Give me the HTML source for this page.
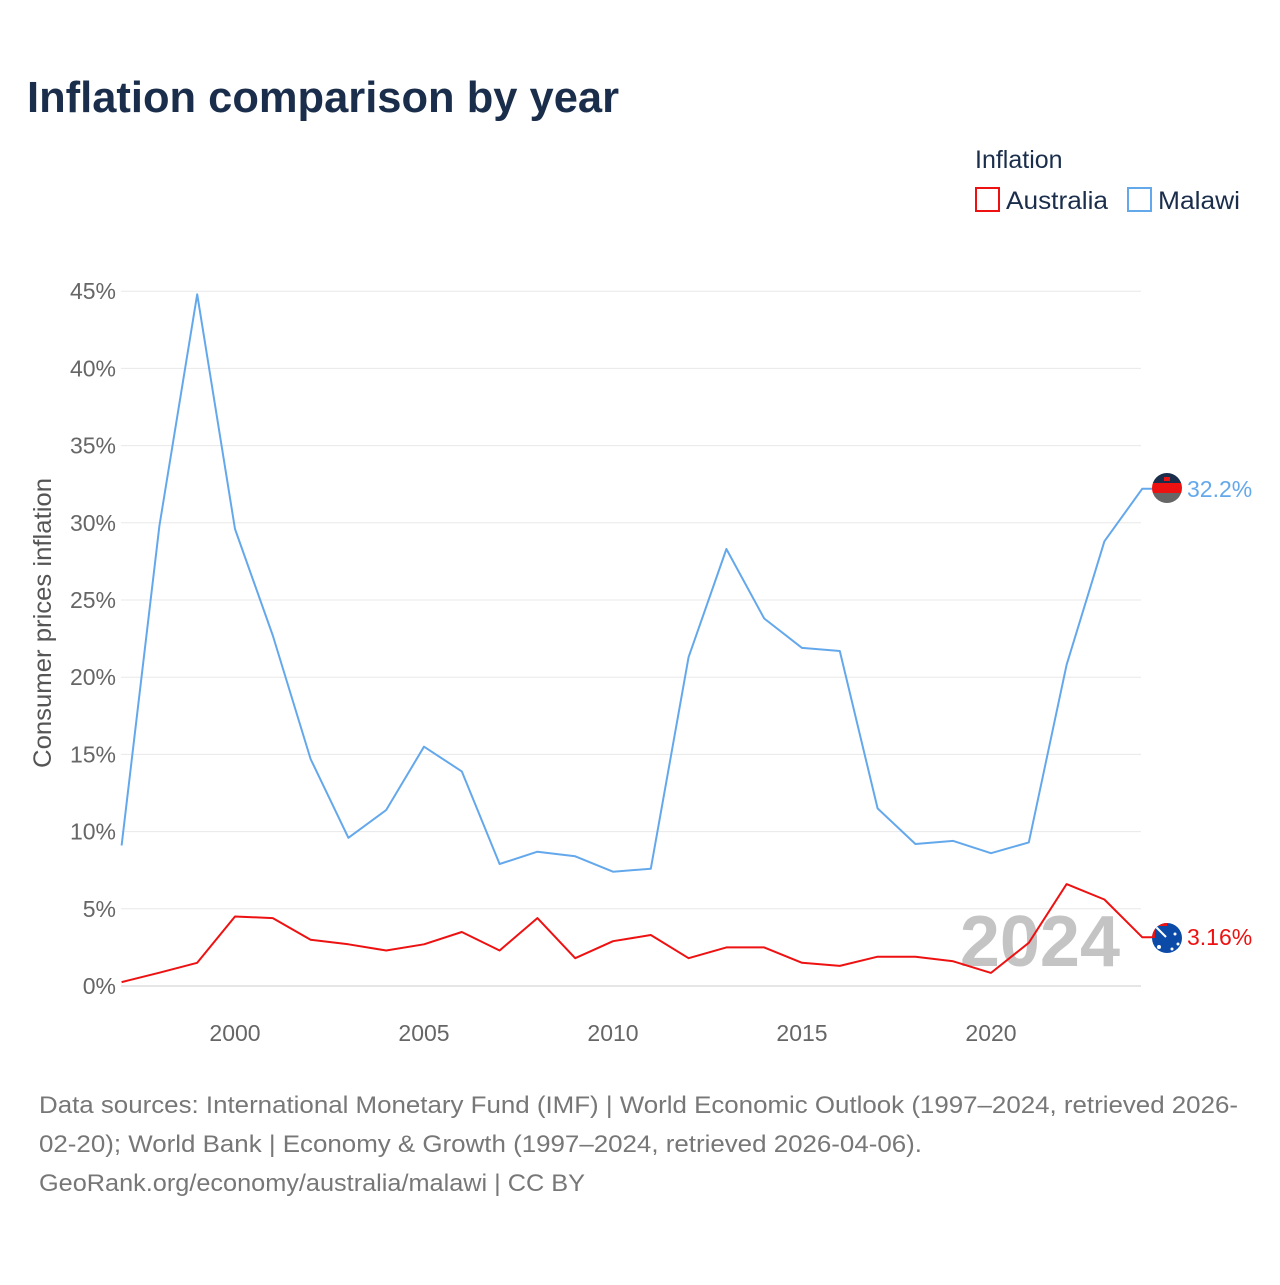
<!DOCTYPE html>
<html><head><meta charset="utf-8"><style>
body{margin:0;background:#fff;}
svg text{font-family:"Liberation Sans",sans-serif;}
</style></head><body>
<svg width="1280" height="1280" viewBox="0 0 1280 1280" xmlns="http://www.w3.org/2000/svg">
<text x="27" y="112" font-size="44" font-weight="bold" fill="#1a2e4c" textLength="592" lengthAdjust="spacingAndGlyphs">Inflation comparison by year</text>
<text x="975" y="168" font-size="25" fill="#1a2e4c">Inflation</text>
<g><rect x="976" y="188" width="23" height="23" fill="none" stroke="#ee1111" stroke-width="2"/><text x="1006" y="209" font-size="25" fill="#1a2e4c" textLength="102" lengthAdjust="spacingAndGlyphs">Australia</text></g>
<g><rect x="1128" y="188" width="23" height="23" fill="none" stroke="#64a8ec" stroke-width="2"/><text x="1158" y="209" font-size="25" fill="#1a2e4c" textLength="82" lengthAdjust="spacingAndGlyphs">Malawi</text></g>
<g id="grid"></g>
<g id="yticks"></g>
<g id="xticks"></g>
<text transform="translate(51,623) rotate(-90)" text-anchor="middle" font-size="25" fill="#555" textLength="290" lengthAdjust="spacingAndGlyphs">Consumer prices inflation</text>
<text x="1120" y="966" text-anchor="end" font-size="72" font-weight="bold" fill="#c4c4c4">2024</text>
<g id="series"></g>
<g>
<clipPath id="cm"><circle cx="1167" cy="488" r="15"/></clipPath>
<g clip-path="url(#cm)"><rect x="1150" y="472" width="34" height="11" fill="#1a2e4c"/><rect x="1150" y="483" width="34" height="10" fill="#ee1111"/><rect x="1150" y="493" width="34" height="12" fill="#666"/><rect x="1164" y="477" width="6" height="4" fill="#ee1111"/></g></g>
<g>
<clipPath id="ca"><circle cx="1167" cy="938" r="15"/></clipPath>
<g clip-path="url(#ca)"><rect x="1150" y="922" width="34" height="34" fill="#0c4aa8"/><rect x="1150" y="922" width="17" height="16" fill="#ee1111"/><rect x="1155" y="926" width="12" height="12" fill="#0c4aa8"/><line x1="1155" y1="926" x2="1166" y2="937" stroke="#fff" stroke-width="2"/><circle cx="1159" cy="947" r="2" fill="#fff"/><circle cx="1175" cy="934" r="1.5" fill="#fff"/><circle cx="1178" cy="944" r="1.5" fill="#fff"/><circle cx="1172" cy="949" r="1.5" fill="#fff"/></g></g>
<text font-size="24" fill="#777"><tspan x="39" y="1113" textLength="1199" lengthAdjust="spacingAndGlyphs">Data sources: International Monetary Fund (IMF) | World Economic Outlook (1997–2024, retrieved 2026-</tspan><tspan x="39" y="1152" textLength="883" lengthAdjust="spacingAndGlyphs">02-20); World Bank | Economy &amp; Growth (1997–2024, retrieved 2026-04-06).</tspan><tspan x="39" y="1191" textLength="546" lengthAdjust="spacingAndGlyphs">GeoRank.org/economy/australia/malawi | CC BY</tspan></text>
</svg>
<script>
const years=[1997,1998,1999,2000,2001,2002,2003,2004,2005,2006,2007,2008,2009,2010,2011,2012,2013,2014,2015,2016,2017,2018,2019,2020,2021,2022,2023,2024];
const malawi=[9.1,29.8,44.8,29.6,22.7,14.7,9.6,11.4,15.5,13.9,7.9,8.7,8.4,7.4,7.6,21.3,28.3,23.8,21.9,21.7,11.5,9.2,9.4,8.6,9.3,20.8,28.8,32.2];
const australia=[0.25,0.86,1.5,4.5,4.4,3.0,2.7,2.3,2.7,3.5,2.3,4.4,1.8,2.9,3.3,1.8,2.5,2.5,1.5,1.3,1.9,1.9,1.6,0.85,2.8,6.6,5.6,3.16];
const yTicks=[0,5,10,15,20,25,30,35,40,45];
const xTicks=[2000,2005,2010,2015,2020];
const NS="http://www.w3.org/2000/svg";
const x=v=>121.6+(v-1997)*37.8;
const y=v=>986-v*15.44;
function mk(t,a,p){const e=document.createElementNS(NS,t);for(const k in a)e.setAttribute(k,a[k]);p.appendChild(e);return e;}
const grid=document.getElementById('grid'),yt=document.getElementById('yticks'),xt=document.getElementById('xticks'),se=document.getElementById('series');
yTicks.forEach(v=>{
 const l=mk('line',{x1:121,x2:1141,y1:y(v),y2:y(v),stroke:v===0?'#ccc':'#e8e8e8','stroke-width':1},grid);
 
 
 const t=mk('text',{x:116,y:y(v)+8,'text-anchor':'end','font-size':23,fill:'#666'},yt);
 t.textContent=v+'%';
 
 
});
xTicks.forEach(v=>{
 const t=mk('text',{x:x(v),y:1041,'text-anchor':'middle','font-size':23,fill:'#666'},xt);
 t.textContent=v;
 
 
});
function line(vals,color,name,label){
 let d=vals.map((v,i)=>(i?'L':'M')+x(years[i]).toFixed(1)+' '+y(v).toFixed(1)).join(' ');
 const last=vals[vals.length-1];
 d+=' L'+(x(years[years.length-1])+11)+' '+y(last).toFixed(1);
 const p=mk('path',{d:d,fill:'none',stroke:color,'stroke-width':2,'stroke-linejoin':'round'},se);
 
 
 const t=mk('text',{x:1187,y:y(last)+8,'font-size':23,fill:color},se);
 t.textContent=label;
 
 
}
line(malawi,'#64a8ec','malawi-line','32.2%');
line(australia,'#ee1111','australia-line','3.16%');
</script>
</body></html>
